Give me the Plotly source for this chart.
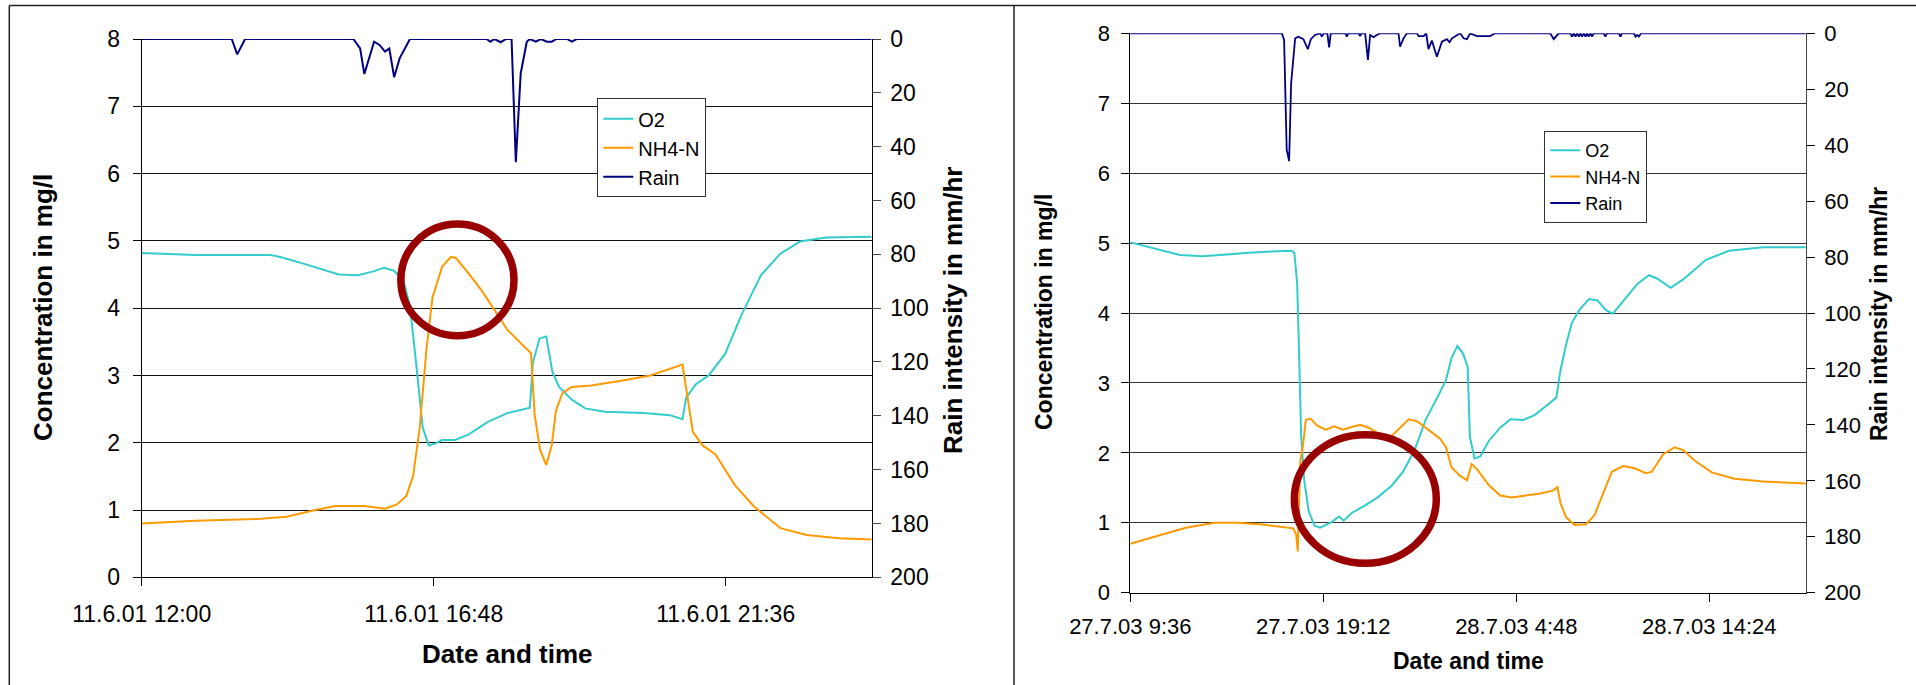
import pandas as pd
import plotly.graph_objects as go

# ---------------- Event 1: 11.6.01 ----------------
A_START = "2001-06-11 12:00"
A_END = "2001-06-12 00:00"
a_ticks = ["2001-06-11 12:00", "2001-06-11 16:48", "2001-06-11 21:36"]

# hours after A_START
a_o2_h = [0, 0.46, 0.89, 2.12, 2.28, 2.70, 3.24, 3.56, 3.82, 3.98, 4.14, 4.30, 4.41, 4.51,
          4.62, 4.72, 4.83, 4.94, 5.15, 5.37, 5.69, 6.01, 6.38, 6.43, 6.54, 6.65, 6.75,
          6.86, 7.07, 7.29, 7.61, 8.25, 8.68, 8.89, 8.95, 9.11, 9.32, 9.59, 9.86, 10.18,
          10.50, 10.82, 11.25, 12.0]
a_o2 = [4.82, 4.80, 4.79, 4.79, 4.76, 4.65, 4.50, 4.49, 4.55, 4.60, 4.56, 4.42, 4.03, 3.19,
        2.22, 1.96, 1.99, 2.04, 2.04, 2.12, 2.31, 2.44, 2.52, 3.19, 3.55, 3.58, 3.06,
        2.83, 2.64, 2.51, 2.46, 2.44, 2.41, 2.35, 2.67, 2.87, 3.00, 3.32, 3.90, 4.49,
        4.81, 4.99, 5.05, 5.06]

a_nh4_h = [0, 0.89, 1.95, 2.38, 2.80, 3.18, 3.66, 4.00, 4.19, 4.35, 4.46, 4.57, 4.68, 4.78,
           4.94, 5.08, 5.16, 5.37, 5.59, 5.80, 6.01, 6.23, 6.40, 6.46, 6.55, 6.65, 6.74,
           6.81, 6.92, 7.07, 7.39, 7.93, 8.36, 8.89, 9.06, 9.22, 9.43, 9.75, 10.07, 10.50,
           10.93, 11.46, 12.0]
a_nh4 = [0.80, 0.84, 0.87, 0.90, 0.99, 1.06, 1.06, 1.02, 1.08, 1.21, 1.50, 2.22, 3.38, 4.16,
         4.62, 4.76, 4.75, 4.52, 4.26, 3.97, 3.68, 3.48, 3.33, 2.41, 1.89, 1.67, 1.96,
         2.48, 2.74, 2.83, 2.85, 2.93, 3.00, 3.16, 2.16, 1.96, 1.83, 1.37, 1.05, 0.73,
         0.63, 0.58, 0.56]

a_rain_h = [0, 1.48, 1.57, 1.67, 1.70, 3.48, 3.59, 3.66, 3.82, 3.91, 4.00, 4.07, 4.15, 4.24,
            4.33, 4.41, 5.67, 5.73, 5.80, 5.90, 5.99, 6.08, 6.15, 6.23, 6.33, 6.38, 6.48,
            6.56, 6.66, 6.74, 6.82, 6.99, 7.07, 7.15, 12.0]
a_rain = [0, 0, 5.7, 1.0, 0, 0, 3.5, 13.0, 1.0, 2.2, 4.7, 3.5, 14.2, 7.2,
          3.5, 0, 0, 1.0, 0, 1.2, 0, 0, 45.8, 12.8, 1.0, 0, 1.0,
          0, 1.0, 1.0, 0, 0, 1.0, 0, 0]

# ---------------- Event 2: 27.7.03 ----------------
B_START = "2003-07-27 09:36"
B_END = "2003-07-28 19:12"
b_ticks = ["2003-07-27 09:36", "2003-07-27 19:12", "2003-07-28 04:48", "2003-07-28 14:24"]

b_o2_h = [0, 1.34, 2.47, 3.61, 4.75, 5.89, 7.02, 8.02, 8.16, 8.30, 8.39, 8.50, 8.65, 8.87,
          9.16, 9.44, 10.01, 10.38, 10.61, 11.01, 11.58, 12.29, 13.00, 13.57, 14.14, 14.70,
          15.27, 15.70, 15.98, 16.27, 16.55, 16.78, 16.89, 17.12, 17.41, 17.83, 18.40, 18.91,
          19.54, 20.11, 20.68, 21.19, 21.39, 21.67, 21.96, 22.33, 22.81, 23.24, 23.66, 24.00,
          24.52, 25.23, 25.80, 26.22, 26.88, 27.50, 28.64, 29.78, 31.48, 33.6]
b_o2 = [5.01, 4.91, 4.83, 4.81, 4.84, 4.86, 4.88, 4.89, 4.86, 4.42, 3.48, 2.23, 1.61, 1.17,
        0.96, 0.93, 1.01, 1.09, 1.03, 1.14, 1.23, 1.36, 1.53, 1.73, 2.04, 2.48,
        2.79, 3.04, 3.36, 3.53, 3.42, 3.23, 2.23, 1.92, 1.95, 2.17, 2.36, 2.48,
        2.47, 2.54, 2.67, 2.79, 3.17, 3.54, 3.86, 4.04, 4.20, 4.18, 4.04, 3.99,
        4.17, 4.42, 4.54, 4.49, 4.36, 4.48, 4.76, 4.89, 4.94, 4.94]

b_nh4_h = [0, 1.34, 2.76, 4.18, 5.32, 6.46, 7.45, 8.11, 8.25, 8.33, 8.45, 8.59, 8.73, 8.96,
           9.30, 9.73, 10.15, 10.58, 11.01, 11.43, 11.86, 12.43, 13.00, 13.42, 13.85, 14.28,
           14.85, 15.42, 15.70, 15.98, 16.41, 16.75, 16.98, 17.26, 17.83, 18.40, 18.97, 19.68,
           20.39, 21.02, 21.25, 21.39, 21.67, 22.10, 22.67, 23.09, 23.52, 23.95, 24.52, 25.09,
           25.65, 25.94, 26.51, 27.08, 27.50, 28.07, 28.92, 30.06, 31.48, 33.6]
b_nh4 = [0.70, 0.81, 0.93, 1.00, 1.00, 0.98, 0.95, 0.92, 0.83, 0.59, 1.86, 2.11, 2.47, 2.49,
         2.39, 2.33, 2.38, 2.33, 2.37, 2.40, 2.36, 2.26, 2.24, 2.36, 2.48, 2.45,
         2.33, 2.20, 2.08, 1.79, 1.67, 1.61, 1.84, 1.76, 1.54, 1.39, 1.36, 1.39,
         1.42, 1.46, 1.51, 1.29, 1.08, 0.97, 0.98, 1.11, 1.42, 1.73, 1.81, 1.78,
         1.71, 1.73, 1.98, 2.08, 2.04, 1.89, 1.72, 1.63, 1.59, 1.56]

b_rain_h = [0, 7.54, 7.65, 7.78, 7.90, 8.00, 8.20, 8.36, 8.61, 8.83, 8.98, 9.19, 9.44, 9.53,
            9.62, 9.80, 9.89, 9.97, 10.70, 10.77, 10.84, 11.36, 11.43, 11.50, 11.68, 11.82,
            11.93, 12.10, 12.26, 12.43, 13.34, 13.42, 13.59, 13.76, 14.26, 14.34, 14.59, 14.72,
            14.83, 15.00, 15.25, 15.50, 15.75, 15.88, 16.00, 16.16, 16.41, 16.58, 16.74, 16.91,
            17.24, 17.57, 17.90, 18.15, 20.89, 21.06, 21.31, 21.89, 21.97, 22.06, 22.14, 22.22,
            22.31, 22.39, 22.47, 22.56, 22.64, 22.72, 22.80, 22.89, 22.97, 23.05, 23.55, 23.63,
            23.71, 24.30, 24.38, 24.46, 25.05, 25.13, 25.21, 25.29, 25.41, 33.6]
b_rain = [0, 0, 2.4, 41.7, 45.7, 17.9, 1.8, 1.2, 2.1, 5.7, 2.1, 0.6, 0, 1.2,
          0, 0, 5.0, 0, 0, 1.2, 0, 0, 1.0, 0, 0, 9.5,
          0.6, 1.4, 0.6, 0, 0, 4.8, 1.8, 0, 0, 1.0, 1.0, 0,
          5.7, 2.6, 8.4, 3.0, 2.1, 3.2, 1.8, 1.0, 0, 1.8, 2.1, 0,
          1.0, 1.0, 1.0, 0, 0, 2.1, 0, 0, 1.2, 0, 1.2, 0,
          1.2, 0, 1.2, 0, 1.2, 0, 1.2, 0, 1.2, 0, 0, 1.2,
          0, 0, 1.2, 0, 0, 1.2, 0.6, 1.2, 0, 0]

# highlighted regions: (centre hour, centre value, half-width in hours, half-height in mg/l)
A_HIGHLIGHT = (5.19, 4.42, 0.93, 0.83)
B_HIGHLIGHT = (11.69, 1.34, 3.53, 0.92)

for h, v in [(a_o2_h, a_o2), (a_nh4_h, a_nh4), (a_rain_h, a_rain),
             (b_o2_h, b_o2), (b_nh4_h, b_nh4), (b_rain_h, b_rain)]:
    assert len(h) == len(v)


def to_time(start, hours):
    return pd.Timestamp(start) + pd.to_timedelta(pd.Series(hours), unit="h")


C_O2 = "#33CCCC"
C_NH4 = "#FF9900"
C_RAIN = "#000080"
C_RING = "#990000"
FONT = "Arial, Liberation Sans, sans-serif"
W, H = 1916, 685

fig = go.Figure()

# left panel
fig.add_trace(go.Scatter(x=to_time(A_START, a_o2_h), y=a_o2, name="O2", mode="lines",
                         line=dict(color=C_O2, width=2), xaxis="x", yaxis="y", legend="legend"))
fig.add_trace(go.Scatter(x=to_time(A_START, a_nh4_h), y=a_nh4, name="NH4-N", mode="lines",
                         line=dict(color=C_NH4, width=2), xaxis="x", yaxis="y", legend="legend"))
fig.add_trace(go.Scatter(x=to_time(A_START, a_rain_h), y=a_rain, name="Rain", mode="lines",
                         line=dict(color=C_RAIN, width=2), xaxis="x", yaxis="y2", legend="legend"))

# right panel
fig.add_trace(go.Scatter(x=to_time(B_START, b_o2_h), y=b_o2, name="O2", mode="lines",
                         line=dict(color=C_O2, width=2), xaxis="x2", yaxis="y3", legend="legend2"))
fig.add_trace(go.Scatter(x=to_time(B_START, b_nh4_h), y=b_nh4, name="NH4-N", mode="lines",
                         line=dict(color=C_NH4, width=2), xaxis="x2", yaxis="y3", legend="legend2"))
fig.add_trace(go.Scatter(x=to_time(B_START, b_rain_h), y=b_rain, name="Rain", mode="lines",
                         line=dict(color=C_RAIN, width=1.8), xaxis="x2", yaxis="y4", legend="legend2"))

# highlight rings
for start, (ch, cv, rh, rv), xr, yr in [(A_START, A_HIGHLIGHT, "x", "y"),
                                        (B_START, B_HIGHLIGHT, "x2", "y3")]:
    t0 = pd.Timestamp(start)
    fig.add_shape(type="circle", xref=xr, yref=yr,
                  x0=t0 + pd.Timedelta(hours=ch - rh), x1=t0 + pd.Timedelta(hours=ch + rh),
                  y0=cv - rv, y1=cv + rv, line=dict(color=C_RING, width=7.5))


def px_x(v):
    return v / W


def px_y(v):
    return 1 - v / H


A_XDOM = [px_x(141.7), px_x(871.7)]
A_YDOM = [px_y(577.3), px_y(39)]
B_XDOM = [px_x(1130.3), px_x(1805.8)]
B_YDOM = [px_y(592.7), px_y(33.3)]

common_x = dict(type="date", tickformat="%-d.%-m.%y %-H:%M", showgrid=False,
                showline=True, linecolor="black", linewidth=1, ticks="outside",
                ticklen=8, tickcolor="black", zeroline=False, automargin=False)
common_y = dict(showline=True, linecolor="black", linewidth=1, ticks="outside", ticklen=8,
                tickcolor="black", zeroline=False, automargin=False, showgrid=True,
                gridwidth=1)

fig.update_layout(
    width=W, height=H, margin=dict(l=0, r=0, t=0, b=0), autosize=False,
    paper_bgcolor="white", plot_bgcolor="white", template="none",
    font=dict(family=FONT, color="black"),
    xaxis=dict(common_x, domain=A_XDOM, anchor="y", range=[A_START, A_END],
               tickvals=a_ticks, tickfont=dict(size=23), ticklabelstandoff=8),
    yaxis=dict(common_y, domain=A_YDOM, anchor="x", range=[0, 8], dtick=1,
               gridcolor="#111111", tickfont=dict(size=23), ticklabelstandoff=8),
    yaxis2=dict(overlaying="y", anchor="x", side="right", range=[200, 0], dtick=20,
                showgrid=False, showline=True, linecolor="black", ticks="outside", ticklen=8,
                zeroline=False, automargin=False, tickfont=dict(size=23), ticklabelstandoff=5),
    yaxis5=dict(overlaying="y", anchor="x", side="right", range=[200, 0], dtick=20,
                showgrid=False, showline=False, ticks="inside", ticklen=8, tickcolor="black",
                showticklabels=False, zeroline=False, automargin=False),
    xaxis2=dict(common_x, domain=B_XDOM, anchor="y3", range=[B_START, B_END],
                tickvals=b_ticks, tickfont=dict(size=22), ticklabelstandoff=6),
    yaxis3=dict(common_y, domain=B_YDOM, anchor="x2", range=[0, 8], dtick=1,
                gridcolor="#333333", tickfont=dict(size=22), ticklabelstandoff=7),
    yaxis4=dict(overlaying="y3", anchor="x2", side="right", range=[200, 0], dtick=20,
                showgrid=False, showline=True, linecolor="#444444", ticks="outside",
                ticklen=8, tickcolor="black", zeroline=False, automargin=False,
                tickfont=dict(size=22), ticklabelstandoff=5),
    yaxis6=dict(overlaying="y3", anchor="x2", side="right", range=[200, 0], dtick=20,
                showgrid=False, showline=False, ticks="inside", ticklen=8, tickcolor="black",
                showticklabels=False, zeroline=False, automargin=False),
    legend=dict(x=px_x(597.3), y=px_y(98.3), xanchor="left", yanchor="top",
                bgcolor="white", bordercolor="#333333", borderwidth=1,
                font=dict(size=20), itemwidth=30, tracegroupgap=0),
    legend2=dict(x=px_x(1544.3), y=px_y(131), xanchor="left", yanchor="top",
                 bgcolor="white", bordercolor="#333333", borderwidth=1,
                 font=dict(size=18), itemwidth=30, tracegroupgap=0),
    showlegend=True,
)

# axis titles
titles = [
    ("Concentration in mg/l", 43, 308, -90, 26),
    ("Rain intensity in mm/hr", 953, 310, -90, 26),
    ("Date and time", 507.5, 654, 0, 26),
    ("Concentration in mg/l", 1044, 312, -90, 23),
    ("Rain intensity in mm/hr", 1879, 314, -90, 23),
    ("Date and time", 1468.6, 661, 0, 23),
]
for text, cx, cy, ang, size in titles:
    fig.add_annotation(text="<b>" + text + "</b>", xref="paper", yref="paper",
                       x=px_x(cx), y=px_y(cy), xanchor="center", yanchor="middle",
                       textangle=ang, showarrow=False, font=dict(size=size, family=FONT))

# panel frames
frame = dict(color="#222222", width=1.5)
fig.add_shape(type="line", xref="paper", yref="paper", x0=px_x(9.3), x1=1,
              y0=px_y(5.5), y1=px_y(5.5), line=frame)
fig.add_shape(type="line", xref="paper", yref="paper", x0=px_x(9.3), x1=px_x(9.3),
              y0=0, y1=px_y(5.5), line=frame)
fig.add_shape(type="line", xref="paper", yref="paper", x0=px_x(1014), x1=px_x(1014),
              y0=0, y1=px_y(5.5), line=frame)

fig.write_html("out.html")
